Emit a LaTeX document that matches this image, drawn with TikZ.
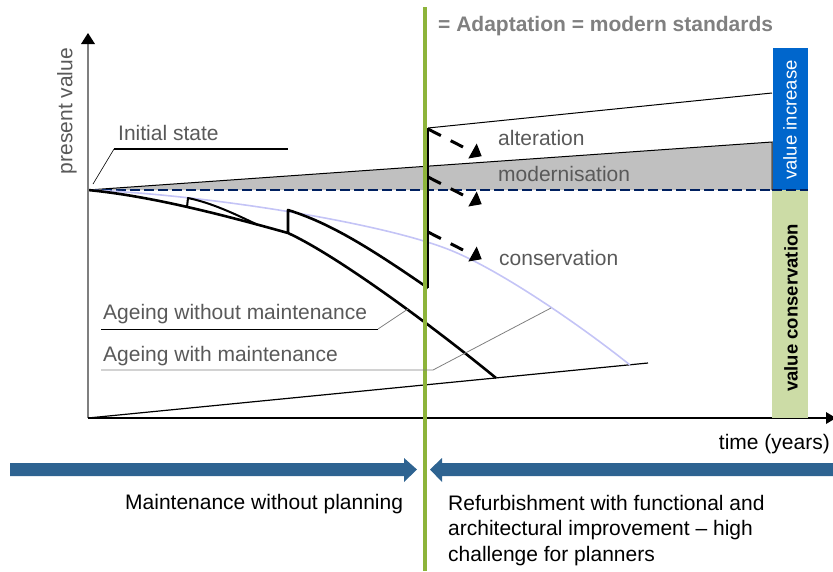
\documentclass[tikz,border=0pt]{standalone}
\usepackage{fontspec}
\setmainfont{Liberation Sans}
\definecolor{labelgray}{HTML}{595959}
\definecolor{headgray}{HTML}{808080}
\definecolor{axisgray}{HTML}{7F7F7F}
\definecolor{shadegray}{HTML}{C0C0C0}
\definecolor{navy}{HTML}{002060}
\definecolor{lavender}{HTML}{C4C4F6}
\definecolor{olive}{HTML}{8DB43A}
\definecolor{incblue}{HTML}{0066CC}
\definecolor{consgreen}{HTML}{CCDCA6}
\definecolor{bandblue}{HTML}{2E6391}
\begin{document}
\begin{tikzpicture}[x=1pt,y=-1pt,
  lbl/.style={font=\fontsize{21}{25}\selectfont, text=labelgray, inner sep=0pt, anchor=base west},
  blk/.style={font=\fontsize{21}{25}\selectfont, text=black, inner sep=0pt, anchor=base west},
  bartext/.style={font=\fontsize{18.5}{22}\selectfont, inner sep=0pt, rotate=90},
  thickcurve/.style={line width=2.6pt, black, line join=round},
  thin/.style={line width=1pt},
  leader/.style={line width=0.8pt, draw=axisgray},
  dasharrow/.style={line width=3pt, dash pattern=on 14.5pt off 11pt},
  band/.style={fill=bandblue, draw=none}]
\useasboundingbox (0,0) rectangle (833,571);

% ---- key points ----
\coordinate (O) at (88,190);
\coordinate (Ybot) at (88,418);
\coordinate (Ytop) at (88,44);
\coordinate (Xend) at (826,418);
\coordinate (baseR) at (648,363);
\coordinate (shadeR) at (772,142);
\coordinate (shadeB) at (772,190);
\coordinate (altL) at (428,128);
\coordinate (altR) at (772,93);
\coordinate (jumpB) at (428,288);
\coordinate (wB) at (288,233);
\coordinate (woEnd) at (496,378);
\coordinate (lavMid) at (450,250);
\coordinate (lavEnd) at (630,365);

% ---- shaded modernisation wedge and dashed reference level ----
\fill[shadegray] (O) -- (shadeR) -- (shadeB) -- cycle;
\draw[thin] (O) -- (shadeR) -- (shadeB);
\draw[navy, line width=2pt, dash pattern=on 10pt off 4pt] (O) -- (808,190);
\draw[thin] (altL) -- (altR);

% ---- base line of the value loss ----
\draw[line width=1.2pt] (Ybot) -- (baseR);

% ---- ageing with maintenance (lavender) ----
\draw[lavender, line width=1.6pt] (O) .. controls (200,194) and (380,222) .. (lavMid)
  .. controls (500,270) and (580,325) .. (lavEnd);

% ---- ageing without maintenance ----
\draw[thickcurve] (O) .. controls (150,196) and (220,214) .. (wB)
  .. controls (340,257) and (440,332) .. (woEnd);

% ---- maintained path with jumps ----
\draw[thickcurve, line width=2pt] (187,207) -- (188,198)
  .. controls (212,203) and (235,214) .. (257,224.5);
\draw[thickcurve] (wB) -- (288,210)
  .. controls (330,223) and (370,248) .. (jumpB);

% ---- axes ----
\draw[axisgray, line width=1.5pt] (Ybot) -- (Ytop);
\fill[black] (81,44) -- (88,33) -- (95,44) -- cycle;
\draw[black, line width=1.3pt] (Ybot) -- (Xend);

% ---- value bars ----
\fill[consgreen] (772,190) rectangle (808,418);
\fill[incblue] (773,48) rectangle (808,190);
\draw[navy, line width=2pt, dash pattern=on 10pt off 4pt] (772,190) -- (808,190);
\node[bartext, text=white] (vinc) at (790,120) {value increase};
\node[bartext, text=black, font=\fontsize{18.5}{22}\selectfont\bfseries] (vcons) at (791,308) {value conservation};
\fill[black] (826,412) -- (836,418) -- (826,424) -- cycle;

% ---- adaptation line ----
\draw[olive, line width=4pt] (425,7) -- (425,571);
\draw[black, line width=1.5pt] (altL) -- (jumpB);

% ---- adaptation arrows ----
\coordinate (a1s) at (428,129);
\coordinate (a1e) at (463,147);
\coordinate (a2s) at (428,177);
\coordinate (a2e) at (463,195);
\coordinate (a3s) at (428,232);
\coordinate (a3e) at (463,250);
\foreach \s/\e in {a1s/a1e, a2s/a2e, a3s/a3e}{
  \draw[dasharrow] (\s) -- (\e);
  \fill[black] (\e) ++(13.7,-3.5) -- ++(-8.4,15) -- ++(13.4,-2.3) -- cycle;
}

% ---- labels ----
\node[lbl] (init) at (118,140) {Initial state};
\draw[line width=1.3pt] (114,149) -- (288,149);
\draw[leader, draw=black, line width=0.6pt] (114,149) -- (93,184);

\node[lbl] (alt) at (498,145.5) {alteration};
\node[lbl] (mod) at (498,181.5) {modernisation};
\node[lbl] (cons) at (499,265) {conservation};

\node[lbl] (agewo) at (103,319) {Ageing without maintenance};
\draw[line width=1pt] (101,329) -- (378,329);
\draw[leader] (378,329) -- (408,309);
\node[lbl] (agew) at (103,361) {Ageing with maintenance};
\draw[leader] (101,370) -- (433,370) -- (551,308);

\node[lbl, rotate=90, anchor=center] (pv) at (67,111) {present value};
\node[font=\fontsize{21}{25}\selectfont\bfseries, text=headgray, inner sep=0pt, anchor=base west] (adapt) at (438,31.5) {= Adaptation = modern standards};
\node[blk, anchor=base east] (time) at (830,449) {time (years)};

% ---- phase bands ----
\fill[band] (10,463) -- (404,463) -- (404,458) -- (417,469.5) -- (404,482) -- (404,476) -- (10,476) -- cycle;
\fill[band] (833,463) -- (442,463) -- (442,458) -- (430,469.5) -- (442,482) -- (442,476) -- (833,476) -- cycle;
\node[blk] (maint) at (125,509) {Maintenance without planning};
\node[blk] (ref1) at (448,510) {Refurbishment with functional and};
\node[blk] (ref2) at (448,535.5) {architectural improvement -- high};
\node[blk] (ref3) at (448,561) {challenge for planners};
\end{tikzpicture}
\end{document}
